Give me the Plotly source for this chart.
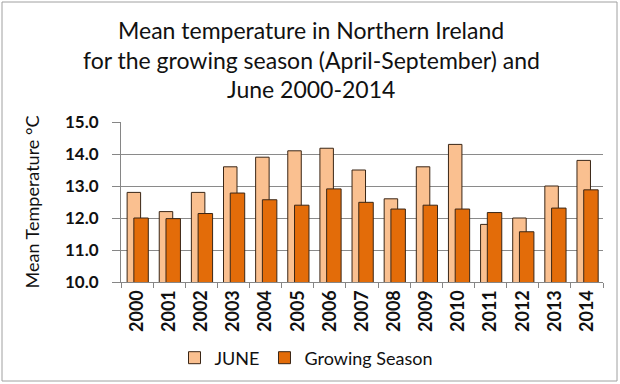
import plotly.graph_objects as go

years = [2000, 2001, 2002, 2003, 2004, 2005, 2006, 2007, 2008, 2009, 2010, 2011, 2012, 2013, 2014]
june = [12.8, 12.2, 12.8, 13.6, 13.9, 14.1, 14.18, 13.5, 12.6, 13.6, 14.3, 11.8, 12.0, 13.0, 13.8]
growing = [12.0, 11.98, 12.14, 12.78, 12.57, 12.4, 12.91, 12.49, 12.28, 12.4, 12.28, 12.17, 11.57, 12.31, 12.88]
year_labels = [str(y) for y in years]
title_lines = ["Mean temperature in Northern Ireland",
               "for the growing season (April-September) and",
               "June 2000-2014"]

FONT = "Lato"
L, R, T, B = 121, 17, 122, 102
PW, PH = 620 - L - R, 384 - T - B

def px_to_paper_y(py):
    return (384 - B - py) / PH

def px_to_paper_x(px):
    return (px - L) / PW

fig = go.Figure()
fig.add_trace(go.Bar(
    x=years, y=june, name="JUNE", base=0,
    offset=-0.31, width=0.42,
    marker=dict(color="#FAC090", line=dict(color="#3a2616", width=1)),
))
fig.add_trace(go.Bar(
    x=years, y=growing, name="Growing Season", base=0,
    offset=-0.10, width=0.45,
    marker=dict(color="#E36C09", line=dict(color="#3a2616", width=1)),
))

annotations = []
for i, line in enumerate(title_lines):
    annotations.append(dict(
        text=line, xref="paper", yref="paper",
        x=px_to_paper_x(311), y=px_to_paper_y(30 + 29.5 * i),
        xanchor="center", yanchor="middle", showarrow=False,
        font=dict(family=FONT, size=23, color="#111111"),
    ))

fig.update_layout(
    width=620, height=384,
    margin=dict(l=L, r=R, t=T, b=B, autoexpand=False),
    paper_bgcolor="white", plot_bgcolor="white",
    barmode="overlay",
    showlegend=True,
    annotations=annotations,
    legend=dict(orientation="h", xref="container", yref="container",
                x=306 / 620, xanchor="center", y=1 - 358 / 384, yanchor="middle",
                font=dict(family=FONT, size=18, color="#111111"), itemwidth=30,
                traceorder="normal"),
    xaxis=dict(
        range=[1999.5, 2014.5], tickmode="array", tickvals=years, ticktext=year_labels,
        tickangle=-90, ticks="", showgrid=False, automargin=False,
        showline=True, linecolor="#868686", linewidth=1,
        tickfont=dict(family=FONT, size=18, color="#111111", weight="bold"),
        minor=dict(ticks="outside", tick0=1999.5, dtick=1, ticklen=5, tickcolor="#868686", showgrid=False),
    ),
    yaxis=dict(
        range=[10, 15], dtick=1, tickformat=".1f", automargin=False,
        showgrid=True, gridcolor="#8a8a8a", gridwidth=1,
        showline=True, linecolor="#868686", linewidth=1,
        ticks="outside", ticklen=8, tickcolor="#868686",
        tickfont=dict(family=FONT, size=17, color="#111111", weight="bold"),
        ticklabelstandoff=10,
        title=dict(text="Mean Temperature °C", font=dict(family=FONT, size=18, color="#111111"), standoff=20),
    ),
    shapes=[dict(type="rect", xref="paper", yref="paper",
                 x0=px_to_paper_x(2), x1=px_to_paper_x(617),
                 y0=px_to_paper_y(381), y1=px_to_paper_y(2),
                 line=dict(color="#a0a0a0", width=1), fillcolor="rgba(0,0,0,0)", layer="below")],
)

fig.write_html("out.html", config={"displayModeBar": False},
               post_script="document.body.style.margin='0';document.body.style.overflow='hidden';")
